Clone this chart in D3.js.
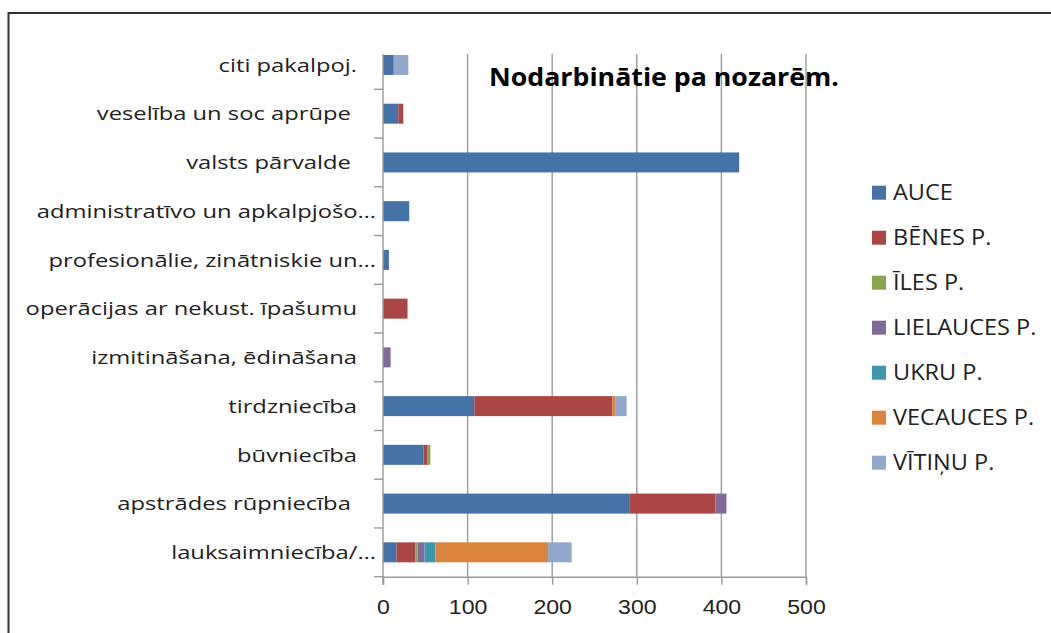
<!DOCTYPE html>
<html>
<head>
<meta charset="utf-8">
<script src="https://cdn.jsdelivr.net/npm/d3@7"></script>
<style>
  body { margin: 0; background: #fff; }
  svg { display: block; font-family: "Open Sans", sans-serif; }
</style>
</head>
<body>
<div id="chart"></div>
<script>
// categories, top to bottom as shown in the picture
var categories = [
    "citi pakalpoj.",
    "veselība un soc aprūpe ",
    "valsts pārvalde ",
    "administratīvo un apkalpjošo…",
    "profesionālie, zinātniskie un…",
    "operācijas ar nekust. īpašumu",
    "izmitināšana, ēdināšana",
    "tirdzniecība",
    "būvniecība",
    "apstrādes rūpniecība ",
    "lauksaimniecība/…"
];

var seriesNames = ["AUCE", "BĒNES P.", "ĪLES P.", "LIELAUCES P.", "UKRU P.", "VECAUCES P.", "VĪTIŅU P."];

var auce      = [12, 18, 421, 31, 7, 0, 0, 108, 48, 291, 16];
var benes     = [0, 6, 0, 0, 0, 29, 0, 163, 4, 102, 22];
var iles      = [0, 0, 0, 0, 0, 0, 0, 0, 4, 0, 3];
var lielauces = [0, 0, 0, 0, 0, 0, 9, 0, 0, 13, 8];
var ukru      = [1, 0, 0, 0, 0, 0, 0, 0, 0, 0, 13];
var vecauces  = [0, 0, 0, 0, 0, 0, 0, 4, 0, 0, 133];
var vitinu    = [17, 0, 0, 0, 0, 0, 0, 13, 0, 0, 28];

var xTicks = [0, 100, 200, 300, 400, 500];
var title = "Nodarbinātie pa nozarēm.";

var colors = ["#4572A7", "#AA4643", "#89A54E", "#80699B", "#3D96AE", "#DB843D", "#92A8CD"];

var width = 1051, height = 633;

var svg = d3.select("#chart").append("svg")
    .attr("width", width)
    .attr("height", height);

// outer chart frame (runs off the right and bottom edge)
svg.append("rect")
    .attr("x", 8.5).attr("y", 13)
    .attr("width", 1100).attr("height", 700)
    .attr("fill", "#fff")
    .attr("stroke", "#333")
    .attr("stroke-width", 2);

var plot = {left: 383, right: 806, top: 40.6, bottom: 576.7};

var x = d3.scaleLinear().domain([0, 500]).range([plot.left, plot.right]);
var y = d3.scaleBand().domain(categories).range([plot.top, plot.bottom]).paddingInner(0).paddingOuter(0);

// rows for the stack
var rows = categories.map(function(c, i) {
    return {cat: c, "AUCE": auce[i], "BĒNES P.": benes[i], "ĪLES P.": iles[i], "LIELAUCES P.": lielauces[i],
            "UKRU P.": ukru[i], "VECAUCES P.": vecauces[i], "VĪTIŅU P.": vitinu[i]};
});
var stacked = d3.stack().keys(seriesNames)(rows);

// vertical gridlines
svg.append("g")
    .selectAll("line")
    .data(xTicks.slice(1))
    .join("line")
    .attr("x1", function(d) { return x(d); })
    .attr("x2", function(d) { return x(d); })
    .attr("y1", plot.top + 13.5)
    .attr("y2", plot.bottom)
    .attr("stroke", "#9a9a9a")
    .attr("stroke-width", 1.4);

// bars
var barH = 20;
svg.append("g")
    .selectAll("g")
    .data(stacked)
    .join("g")
    .attr("fill", function(d, i) { return colors[i]; })
    .selectAll("rect")
    .data(function(d) { return d.filter(function(p) { return p[1] - p[0] > 0; }); })
    .join("rect")
    .attr("x", function(d) { return x(d[0]); })
    .attr("width", function(d) { return x(d[1]) - x(d[0]); })
    .attr("y", function(d) { return y(d.data.cat) + y.bandwidth() / 2 - barH / 2; })
    .attr("height", barH);

// x axis
var xAxis = d3.axisBottom(x).tickValues(xTicks).tickSize(8).tickPadding(14).tickFormat(d3.format("d"));
var gx = svg.append("g")
    .attr("transform", "translate(0," + plot.bottom + ")")
    .call(xAxis);
gx.select(".domain").attr("stroke", "#9a9a9a").attr("stroke-width", 1.4);
gx.selectAll(".tick line").attr("stroke", "#9a9a9a").attr("stroke-width", 1.4);
gx.selectAll(".tick text")
    .style("font-size", "21px")
    .attr("fill", "#222")
    .attr("transform", "scale(1.1,1)");

// y axis: boundary ticks between categories
var boundaries = categories.map(function(c) { return y(c); }).concat([plot.bottom]);
svg.append("line")
    .attr("x1", plot.left).attr("x2", plot.left)
    .attr("y1", plot.top + 13.5).attr("y2", plot.bottom + 8)
    .attr("stroke", "#9a9a9a").attr("stroke-width", 1.4);
svg.append("g")
    .selectAll("line")
    .data(boundaries.slice(1))
    .join("line")
    .attr("x1", plot.left - 9).attr("x2", plot.left)
    .attr("y1", function(d) { return d; })
    .attr("y2", function(d) { return d; })
    .attr("stroke", "#9a9a9a").attr("stroke-width", 1.4);

// category labels (the source is stretched sideways)
svg.append("g")
    .selectAll("text")
    .data(categories)
    .join("text")
    .attr("transform", function(d) {
        var tx = d.slice(-1) === "…" ? plot.left - 7 : plot.left - 26;
        return "translate(" + tx + "," + (y(d) + y.bandwidth() / 2) + ") scale(1.25,1)";
    })
    .attr("dy", "0.35em")
    .attr("text-anchor", "end")
    .style("white-space", "pre")
    .style("font-size", "19px")
    .attr("fill", "#222")
    .text(function(d) { return d; });

// title
svg.append("text")
    .attr("transform", "translate(489,86) scale(1.07,1)")
    .style("font-size", "25px")
    .style("font-weight", "bold")
    .attr("fill", "#000")
    .text(title);

// legend
var legend = svg.append("g")
    .selectAll("g")
    .data(seriesNames)
    .join("g")
    .attr("transform", function(d, i) { return "translate(872," + (192.7 + i * 45) + ")"; });
legend.append("rect")
    .attr("x", 0).attr("y", -7)
    .attr("width", 14).attr("height", 14)
    .attr("fill", function(d, i) { return colors[i]; });
legend.append("text")
    .attr("transform", "translate(21,0) scale(1.12,1)")
    .attr("dy", "0.36em")
    .style("font-size", "21px")
    .attr("fill", "#222")
    .text(function(d) { return d; });
</script>
</body>
</html>
